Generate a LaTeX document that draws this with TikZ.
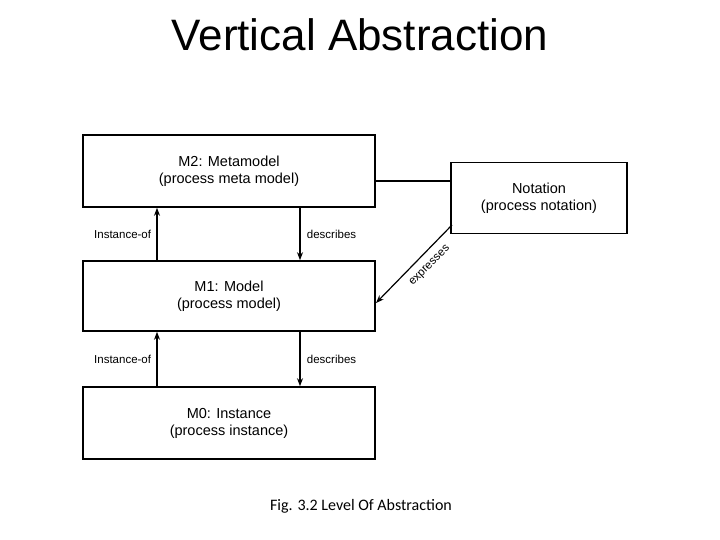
\documentclass[tikz,border=0pt]{standalone}
\usepackage{fontspec}
\setmainfont{Liberation Sans}
\newfontfamily\capfont{Carlito}
\usetikzlibrary{arrows.meta}
\begin{document}
\begin{tikzpicture}[x=1pt,y=-1pt,
  box/.style={draw,line width=1.6pt,minimum width=292pt,minimum height=72pt,align=center,font=\fontsize{14.5}{17}\selectfont,inner sep=0pt},
  lbl/.style={font=\fontsize{11.5}{13}\selectfont},
  arr/.style={line width=1.2pt,-{Stealth[length=8pt,width=6pt]}}]
\useasboundingbox (0,0) rectangle (720,540);
\node[font=\fontsize{44}{50}\selectfont] (title) at (360,35) {Vertical Abstraction};
\node[box] (m2) at (229,171) {M2: Metamodel\\(process meta model)};
\node[box,minimum height=70pt] (m1) at (229,296) {M1: Model\\(process model)};
\node[box] (m0) at (229,423) {M0: Instance\\(process instance)};
\node[box,minimum width=176pt,minimum height=71pt] (nt) at (539,198) {Notation\\(process notation)};
\node[font=\capfont\fontsize{16}{19}\selectfont] (cap) at (361,506) {Fig. 3.2 Level Of Abstraction};
\coordinate (nta) at (452,225);
\coordinate (m1a) at (376,303);
% links
\draw[line width=1.6pt] (m2.east |- 0,181) -- (nt.west |- 0,181);
\draw[arr] (nta) -- (m1a);
\node[lbl,rotate=45] (ex) at (430,266) {expresses};
\draw[arr] (m1.north -| 157,0) -- node[lbl,left,xshift=-2pt] {Instance-of} (m2.south -| 157,0);
\draw[arr] (m2.south -| 300,0) -- node[lbl,right,xshift=3pt] {describes} (m1.north -| 300,0);
\draw[arr] (m0.north -| 157,0) -- node[lbl,left,xshift=-2pt] {Instance-of} (m1.south -| 157,0);
\draw[arr] (m1.south -| 300,0) -- node[lbl,right,xshift=3pt] {describes} (m0.north -| 300,0);
\end{tikzpicture}
\end{document}
